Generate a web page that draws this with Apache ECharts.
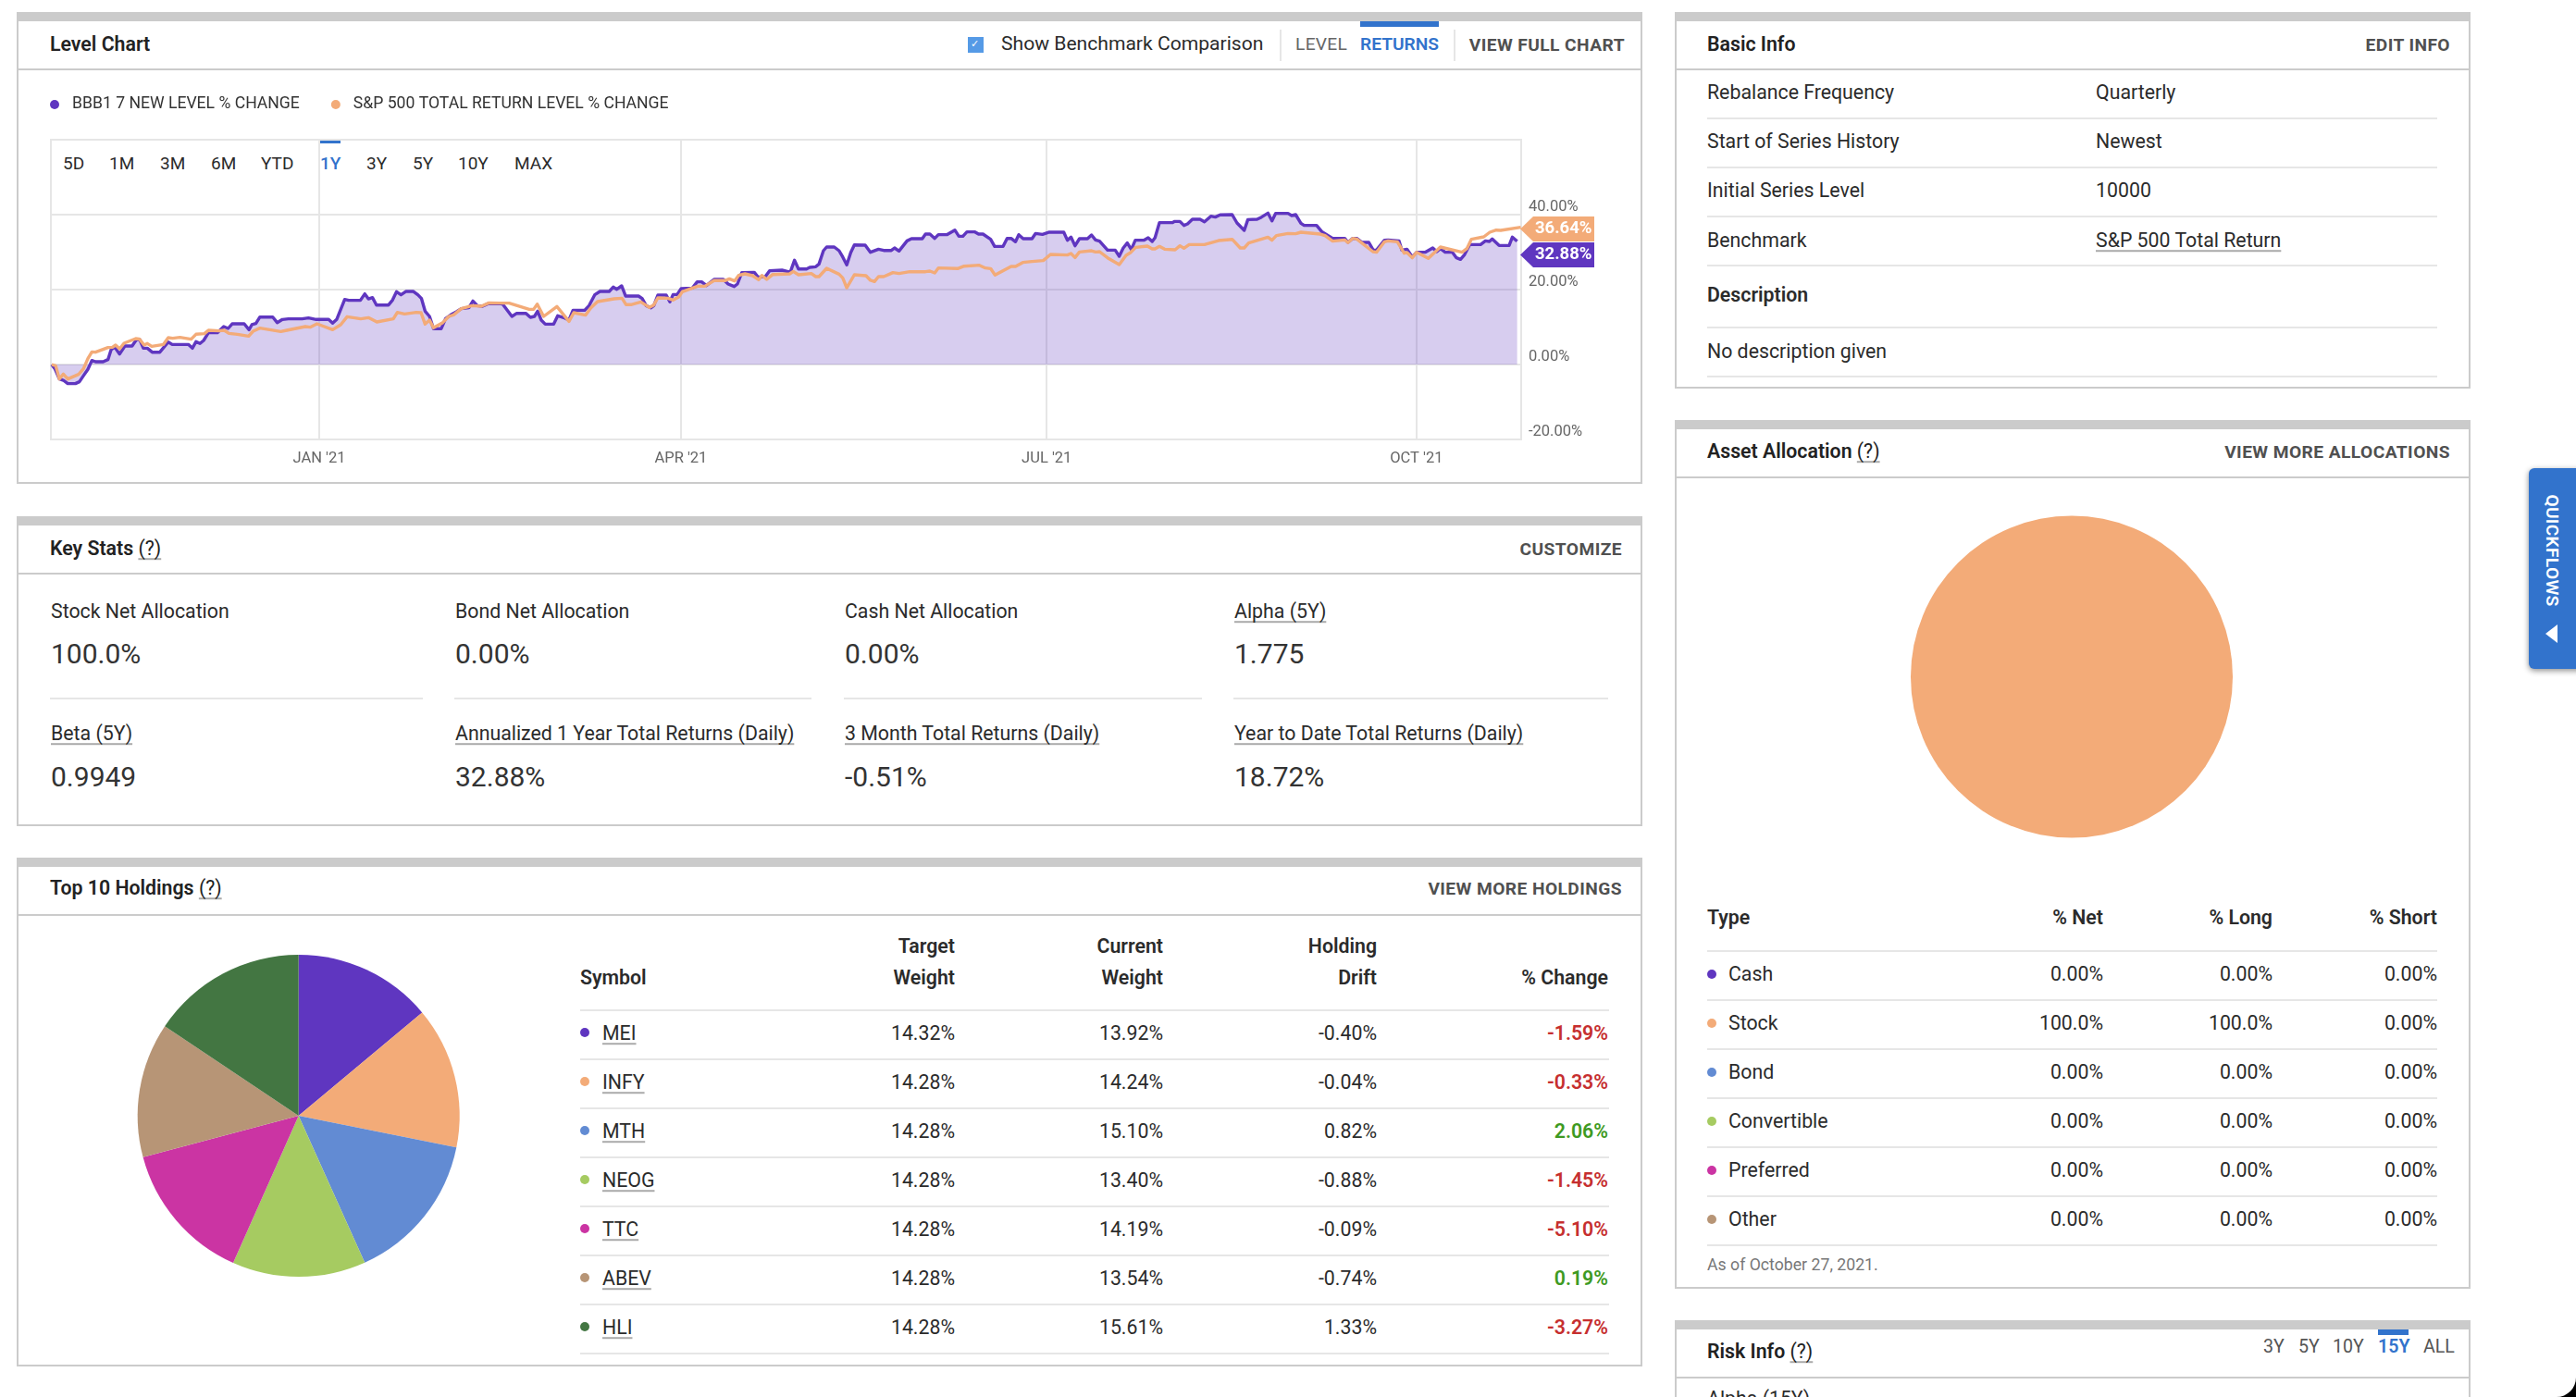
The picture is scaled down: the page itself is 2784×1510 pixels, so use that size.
<!DOCTYPE html>
<html>
<head>
<meta charset="utf-8">
<title>Level Chart</title>
<script src="https://cdn.jsdelivr.net/npm/echarts@6/dist/echarts.min.js"></script>
<style>
html,body{margin:0;padding:0;background:#fff;width:2784px;height:1510px;overflow:hidden;font-family:Roboto,sans-serif;color:#333}
#page{position:absolute;left:0;top:0;width:2784px;height:1510px;overflow:hidden}
#chart{position:absolute;left:0;top:0;width:2784px;height:1510px}
.t{position:absolute;white-space:nowrap;line-height:1.2;transform:translateY(-50%)}
.u{text-decoration:underline;text-decoration-color:#aaa;text-decoration-thickness:2px;text-underline-offset:3px;text-decoration-skip-ink:none}
.b{position:absolute}
</style>
</head>
<body>
<div id="page"></div>
<div id="chart"></div>
<script>
// ---- Level chart data: x is days since the start of the one-year window (late Oct 2020), y is % change ----
const fundName = 'BBB1 7 NEW LEVEL % CHANGE';
const benchName = 'S&P 500 TOTAL RETURN LEVEL % CHANGE';
const fundDays = [0.2,1,2.1,3.1,4.2,6.1,7.1,8.1,9.2,10.2,11.1,13,14.2,15,15.9,17.1,18.4,20.2,21.3,22.1,23,24,25.2,27.1,29.2,30.2,34.2,35.2,36.1,37.1,38,39.2,41.4,43,44.1,45.1,48.1,49.3,50,51,52,55.2,56.3,57.6,59.1,62.5,64.1,66,69.1,70.1,71.1,73.1,74.1,77,78.1,79,80,81,84,85,86,87.1,88.3,90.2,91.3,92.2,93.1,94.2,95.2,97.1,98.2,99.5,100.9,102.1,104,105,106.1,107.4,108.7,111.7,112.4,114.7,115.9,118.2,119.3,120.3,121.1,122,123,125.1,126.1,127.8,128.9,129.9,132.8,133.9,135.3,136.6,138.9,139.9,140.8,142,143,146.2,147.1,148.1,149.3,150,151,153.1,154,154.8,155.8,156.8,159.6,160.8,161.9,163.1,165,167.3,168.5,170,170.8,171.9,175,175.9,177.7,178.8,181.9,183.4,184,185,186,188,188.8,190.3,191.1,192.2,193,194.9,196.1,197,198,199,199.9,202.6,203.9,205.9,207.2,209.1,209.9,211,213,214.1,216.8,217.6,218.7,219.9,220.8,222.9,224.9,225.9,226.9,227.9,229.9,230.8,231.9,233.8,234.8,236.9,237.9,238.9,240,240.8,241.9,244.1,245,246.7,248.4,252,252.9,253.8,254.8,255.9,257.9,258.9,259.9,260.9,262.9,264.8,265.8,266.8,267.8,268.8,269.8,271.9,273,274,274.7,275.8,279,279.6,280.9,281.9,282.8,284,285.9,287,288.6,289.7,290.9,293.9,295.1,296.9,297.8,300.1,301.2,302.8,303.8,304.7,307.8,308.7,309.7,311,311.8,314.9,316.2,318.9,321.9,322.7,323.9,324.9,326.2,327.9,329,329.8,331.8,332.7,335.4,336.1,337.4,338.7,339.8,341.9,343.8,344.8,345.7,346.9,348.7,349.7,350.7,351.7,353,355.7,356.9,357.9,358.6,360.3,362.8,363.6,364.8];
const fundValues = [0,-1.15,-3.87,-4.2,-5.1,-5.1,-4.6,-3,-1.3,1.07,0.74,0.74,1.32,4.03,4.6,2.8,4.94,4.94,6.67,6.67,4.36,4.36,3.29,3.29,6,5.35,5.35,4.36,6.09,5.6,6.42,8.48,8.48,10.12,9.63,10.86,10.86,9.3,10.62,10.95,12.67,12.67,11.19,12.02,12.18,12.18,12.43,12.02,12.02,11.03,12.02,17.37,17.12,17.12,18.85,17.53,17.86,15.88,15.88,17.2,19.42,18.6,19.5,19.5,18.6,17.61,14.24,12.84,9.55,9.55,12.26,13.25,14.07,14.9,15.14,16.95,15.72,15.55,16.21,16.21,16.13,12.84,13.66,13.66,12.59,12.84,14.24,11.85,10.78,10.78,13,12.43,11.85,14.48,14.48,15.72,18.6,19.5,19.5,20.66,20.08,20.99,18.27,18.27,17.61,15.72,15.14,15.72,18.52,18.52,16.71,18.68,18.68,20.25,20.41,22.06,22.06,21.07,22.71,22.71,21.48,20.82,21.48,24.53,24.61,23.37,23.37,25.02,25.18,24.77,24.77,27.82,25.51,25.51,25.92,26.09,26.83,30.37,31.36,31.36,30.37,28.72,26.58,29.87,31.93,31.85,29.96,30.78,30.45,30.45,31.11,30.29,33,33.58,33.58,34.81,34.81,33.66,34.65,34.65,35.88,34.24,34.24,35.39,35.39,34.81,34.81,33.41,31.52,31.52,33.66,33.66,32.76,34.65,33.58,33.58,34.98,34.73,35.31,35.31,33.17,33.99,31.69,33.58,33.58,34.57,33.25,32.92,30.53,30.53,28.89,31.11,32.43,30.7,33.17,33.17,33.83,32.84,33.83,37.86,37.86,38.19,38.19,37.12,37.53,38.76,38.76,38.1,39.59,39.34,39.92,40,37.78,35.8,38.68,38.76,39.34,40.41,38.35,40.33,40.33,39.75,40,37.69,37.12,37.12,35.47,33.66,33.66,32.59,33.66,33.66,32.59,32.59,30.53,30.53,33.17,33.25,33,30.53,30.78,28.72,29.96,29.96,31.11,30.12,30.94,29.96,29.96,28.48,28.06,29.3,32.01,32.01,33,32.84,33.5,31.77,31.77,33.99,32.88];
const benchDays = [0.2,1.2,2.1,3.1,4.2,6.9,8.1,9.2,10.2,11.1,14.2,15.3,16.1,17.1,18.2,21.1,22,23.2,24,25.1,28,29.2,30.3,32.1,34.9,36.1,38.2,39.2,41.8,43.1,44.3,46.4,49.2,50.3,52,57.2,58.7,63.3,64.5,66.2,70.1,72.1,73.7,77.1,79,81.1,85.2,86.2,88,90.9,92.1,93.1,94.2,95.2,97.5,99,100.2,102.1,104.8,107.1,109,111.7,114,119,120.1,121,122.6,125.9,128.9,130.1,133,134.3,136,140.1,142.1,143.1,144.3,146.8,148.9,150,151,153.5,154.8,156.2,157.1,160.9,162.7,165,167.7,168.8,170.1,171.1,172.7,174.6,176.1,176.9,178.1,179.6,183.8,184.7,186,189.2,190.3,191.1,193,196.1,197,198,199.9,202.8,203.9,204.9,205.9,207.2,209.5,211,213.7,217.6,218.7,219.9,220.8,225.6,227.2,231,232.5,233.8,234.9,238.9,240,241.8,244.1,246.9,248.7,252.9,253.8,254.8,255.9,258.9,259.9,260.9,262.9,265.8,267.5,268.6,269.9,272.8,274,274.7,275.8,277.1,279.7,280.9,281.9,283.2,287,290.5,293.9,295.9,296.9,298,302.8,303.8,304.9,307.8,309.7,311,315.8,317,318.9,321.9,322.7,323.9,324.9,328.9,329.8,331.8,332.7,335,336.7,337.4,338.7,339.8,342.7,345.7,351.1,352.3,353.4,356.5,358,359.6,360.7,365.7];
const benchValues = [0,-0.33,-3.87,-2.55,-3.87,-2.63,-1.15,1.56,3.37,3.29,4.53,4.61,5.18,4.2,5.68,6.91,6.83,5.18,5.6,4.86,5.35,7.16,7,7.24,6.75,8.07,8.23,9.14,8.97,9.14,8.31,8.07,7.57,8.89,9.71,8.81,9.14,10.12,9.96,10.86,9.3,10.62,12.76,12.18,12.51,11.36,12.18,13.91,13.5,13.91,13.83,10.78,11.85,9.79,11.19,12.84,13.25,14.9,15.72,15.55,16.46,16.38,16.38,14.73,14.73,16.13,12.84,15.47,11.52,13.83,13.17,15.06,16.79,17.53,17.69,15.97,15.97,16.71,15.23,15.88,17.78,17.69,17.2,18.02,19.42,20.9,20.9,22.39,22.39,22.88,22.3,23.78,24.2,23.7,22.63,23.78,22.71,24.03,24.2,24.85,23.95,24.28,23.46,23.46,25.68,24.11,23.12,20.49,23.95,23.7,22.47,22.14,23.46,23.46,24.53,24.28,24.77,24.77,24.94,24.44,25.76,25.6,26.25,26.5,25.76,25.6,23.87,26.17,26.17,27.24,27.49,27.74,29.39,29.22,29.63,28.56,30.04,30.37,30.04,30.12,28.47,26.66,29.14,29.88,31.27,31.6,30.86,30.86,31.52,30.78,30.61,31.69,31.02,32.01,32.01,33.08,33.41,31.11,31.11,32.43,33.99,33.17,34.4,34.98,34.9,35.31,34.81,34.4,32.92,33.25,32.51,33.66,33.5,30.12,29.96,32.76,33,32.76,29.71,29.87,28.48,29.96,28.31,31.36,29.96,30.94,33.41,34.07,35.31,35.88,35.8,36.64];
const quarterTickDays = [66.75,156.75,247.75,339.75];
const quarterLabels = ["JAN '21","APR '21","JUL '21","OCT '21"];
const yTickValues = [-20,0,20,40];
const rangeLabels = ['5D','1M','3M','6M','YTD','1Y','3Y','5Y','10Y','MAX'];
const rangeX = [68,118,173,228,282,346,396,446,495,556];

// ---- Key stats ----
const statLabels = ['Stock Net Allocation','Bond Net Allocation','Cash Net Allocation','Alpha (5Y)','Beta (5Y)','Annualized 1 Year Total Returns (Daily)','3 Month Total Returns (Daily)','Year to Date Total Returns (Daily)'];
const statValues = ['100.0%','0.00%','0.00%','1.775','0.9949','32.88%','-0.51%','18.72%'];
const statUnderlined = [false,false,false,true,true,true,true,true];

// ---- Holdings ----
const holdingSymbols = ['MEI','INFY','MTH','NEOG','TTC','ABEV','HLI'];
const targetWeights = [14.32,14.28,14.28,14.28,14.28,14.28,14.28];
const currentWeights = [13.92,14.24,15.10,13.40,14.19,13.54,15.61];
const holdingDrift = [-0.40,-0.04,0.82,-0.88,-0.09,-0.74,1.33];
const holdingChange = [-1.59,-0.33,2.06,-1.45,-5.10,0.19,-3.27];
const palette = ['#5F36C0','#F3AB78','#628BD3','#A6CB61','#CB34A3','#B79576','#437642'];

// ---- Basic info ----
const infoLabels = ['Rebalance Frequency','Start of Series History','Initial Series Level','Benchmark'];
const infoValues = ['Quarterly','Newest','10000','S&P 500 Total Return'];

// ---- Asset allocation ----
const allocTypes = ['Cash','Stock','Bond','Convertible','Preferred','Other'];
const allocNet = [0,100,0,0,0,0];
const allocLong = [0,100,0,0,0,0];
const allocShort = [0,0,0,0,0,0];

// ---- Page furniture ----
const page = document.getElementById('page');
const LINE = '#CBCBCB', SOFT = '#E6E6E6', INK = '#2B2B2B', MUTED = '#505050', BLUE = '#3273CC';
function box(x,y,w,h,bg,extra){const d=document.createElement('div');d.className='b';d.style.cssText=`left:${x}px;top:${y}px;width:${w}px;height:${h}px;background:${bg};${extra||''}`;page.appendChild(d);return d;}
function txt(s,x,y,o){o=o||{};const d=document.createElement('div');d.className='t'+(o.u?' u':'');d.textContent=s;
  const pos=o.right?`right:${2784-x}px;`:`left:${x}px;`;
  d.style.cssText=`${pos}top:${y}px;font-size:${o.size||21.3}px;font-weight:${o.w||400};color:${o.c||INK};letter-spacing:${o.ls||0}px;`;
  page.appendChild(d);return d;}
function panel(x0,x1,top,head,bottom){
  box(x0,top,x1-x0,10,LINE);
  box(x0,top+10,2,bottom-top-10,LINE);
  box(x1-2,top+10,2,bottom-top-10,LINE);
  box(x0,head,x1-x0,2,LINE);
  if(bottom<1510)box(x0,bottom,x1-x0,2,LINE);
}
function title(main,q,x,y){const d=txt(main+' ',x,y,{w:600,c:'#222'});if(q){const s=document.createElement('span');s.className='u';s.textContent='(?)';s.style.fontWeight=400;d.appendChild(s);}}
function action(s,x,y){txt(s,x,y,{right:true,w:700,c:MUTED,size:19.2,ls:0.42});}
const pct=v=>v.toFixed(2)+'%';
const pct4=v=>v===100?'100.0%':v.toFixed(2)+'%';

// Level chart panel
panel(18,1775,13,74,521);
title('Level Chart',false,54,48);
box(1046,40,17,17,'#559AE6');
txt('\u2713',1049,48,{size:11,c:'#fff'});
txt('Show Benchmark Comparison',1082,47,{size:21.1});
box(1383,32,2,34,SOFT);
txt('LEVEL',1400,48,{c:'#666',size:19.2,ls:0.3});
txt('RETURNS',1470,48,{c:BLUE,size:19.2,w:600,ls:0});
box(1470,23,85,6,BLUE);
box(1571,32,2,34,SOFT);
action('VIEW FULL CHART',1756,49);
rangeLabels.forEach((s,i)=>txt(s,rangeX[i],176.5,{size:19,c:s==='1Y'?BLUE:INK,w:s==='1Y'?500:400}));
box(345,151,23,4,BLUE);

// Key stats panel
panel(18,1775,558,619,891);
title('Key Stats',true,54,593);
action('CUSTOMIZE',1753,594);
const statX=[55,492,913,1334], statDivW=[403,386,387,405];
statLabels.forEach((s,i)=>{const c=i%4,r=Math.floor(i/4),dy=r*132.5;
  txt(s,statX[c],660.5+dy,{u:statUnderlined[i]});
  txt(statValues[i],statX[c],707+dy,{size:30,c:'#333'});});
statX.forEach((x,i)=>box(x-1,754,statDivW[i],2,SOFT));

// Holdings panel
panel(18,1775,927,988,1475);
title('Top 10 Holdings',true,54,960);
action('VIEW MORE HOLDINGS',1753,961);
const colR=[1032,1257,1488,1738];
txt('Symbol',627,1057,{w:600});
txt('Target',colR[0],1023,{right:true,w:600});txt('Weight',colR[0],1057,{right:true,w:600});
txt('Current',colR[1],1023,{right:true,w:600});txt('Weight',colR[1],1057,{right:true,w:600});
txt('Holding',colR[2],1023,{right:true,w:600});txt('Drift',colR[2],1057,{right:true,w:600});
txt('% Change',colR[3],1057,{right:true,w:600});
box(627,1091,1112,2,SOFT);
holdingSymbols.forEach((s,i)=>{const y=1117+i*53;
  box(627,y-6,10,10,palette[i],'border-radius:50%;');
  txt(s,651,y,{u:true});
  txt(pct(targetWeights[i]),colR[0],y,{right:true});
  txt(pct(currentWeights[i]),colR[1],y,{right:true});
  txt(pct(holdingDrift[i]),colR[2],y,{right:true});
  txt(pct(holdingChange[i]),colR[3],y,{right:true,w:600,c:holdingChange[i]<0&&s!=='ABEV'?'#C62F2F':'#3E9A22'});
  box(627,1144+i*53,1112,2,SOFT);
});

// Basic info panel
panel(1810,2670,13,74,418);
title('Basic Info',false,1845,48);
action('EDIT INFO',2648,49);
infoLabels.forEach((s,i)=>{const y=100+i*53.2;
  txt(s,1845,y,{});
  txt(infoValues[i],2265,y,{u:i===3});
  box(1845,127+i*53,789,2,SOFT);});
txt('Description',1845,319,{w:600});
box(1845,353,789,2,SOFT);
txt('No description given',1845,380,{});
box(1845,406,789,2,SOFT);

// Asset allocation panel
panel(1810,2670,454,515,1391);
title('Asset Allocation',true,1845,488);
action('VIEW MORE ALLOCATIONS',2648,489);
const allocR=[2273,2456,2634];
txt('Type',1845,992,{w:600});
txt('% Net',allocR[0],992,{right:true,w:600});
txt('% Long',allocR[1],992,{right:true,w:600});
txt('% Short',allocR[2],992,{right:true,w:600});
box(1845,1027,789,2,SOFT);
allocTypes.forEach((s,i)=>{const y=1052.5+i*53;
  box(1845,y-5,10,10,palette[i],'border-radius:50%;');
  txt(s,1868,y,{});
  txt(pct4(allocNet[i]),allocR[0],y,{right:true});
  txt(pct4(allocLong[i]),allocR[1],y,{right:true});
  txt(pct4(allocShort[i]),allocR[2],y,{right:true});
  box(1845,1080+i*53,789,2,SOFT);});
txt('As of October 27, 2021.',1845,1368,{size:17.7,c:'#777'});

// Risk info panel (runs off the page)
panel(1810,2670,1427,1488,1600);
title('Risk Info',true,1845,1461);
[['3Y',2446],['5Y',2484],['10Y',2521],['15Y',2570],['ALL',2619]].forEach(([s,x])=>txt(s,x,1456,{size:19.6,c:s==='15Y'?BLUE:'#555',w:s==='15Y'?600:400}));
box(2570,1437,33,6,BLUE);
txt('Alpha (15Y)',1845,1512,{u:true});

// Quickflows tab
box(2733,506,60,217,BLUE,'border-radius:6px;box-shadow:0 2px 6px rgba(0,0,0,.45);');
const qf=txt('QUICKFLOWS',2758,594.5,{size:19.2,w:600,c:'#fff',ls:0.3});
qf.style.transform='translate(-50%,-50%) rotate(90deg)';
box(2751,675,13,20,'#fff','clip-path:polygon(0 50%,100% 0,100% 100%);');

// Screen corner
box(2763,1489,21,21,'#000');
box(2763,1489,21,21,'#fff','border-bottom-right-radius:21px;');

// ---- ECharts ----
const zip = (days, vals) => days.map((d, i) => [d, vals[i]]);
const chart = echarts.init(document.getElementById('chart'), null, {width:2784,height:1510});
function tag(y, color, label){
  return {type:'group',silent:true,children:[
    {type:'polygon',z:20,shape:{points:[[1643,y],[1657,y-13.5],[1723,y-13.5],[1723,y+13.5],[1657,y+13.5]]},style:{fill:color}},
    {type:'text',z:21,style:{text:label,x:1659,y:y-10,fill:'#fff',fontFamily:'Roboto',fontWeight:700,fontSize:18.5}}
  ]};
}
chart.setOption({
  animation:false,
  backgroundColor:'transparent',
  legend:{
    left:54,top:104,padding:0,icon:'circle',itemWidth:10,itemHeight:10,itemGap:34,selectedMode:false,
    textStyle:{fontFamily:'Roboto',fontSize:17.6,color:'#333',padding:[0,0,0,9]},
    data:[fundName,benchName]
  },
  grid:{left:55,top:151,width:1589,height:324,show:true,borderColor:SOFT,borderWidth:2,backgroundColor:'transparent'},
  xAxis:{
    type:'value',min:0,max:365.8,
    axisLine:{show:false},
    axisTick:{show:false,customValues:quarterTickDays},
    axisLabel:{customValues:quarterTickDays,margin:12,fontFamily:'Roboto',fontSize:16.5,color:'#666',
      formatter:v=>quarterLabels[quarterTickDays.indexOf(v)]||''},
    splitLine:{show:true,lineStyle:{color:SOFT,width:2}}
  },
  yAxis:{
    type:'value',position:'right',min:-20,max:60,interval:20,
    axisLine:{show:false},axisTick:{show:false},
    axisLabel:{margin:8,fontFamily:'Roboto',fontSize:16.5,color:'#666',verticalAlign:'bottom',
      formatter:v=>yTickValues.includes(v)?v.toFixed(2)+'%':''},
    splitLine:{show:true,lineStyle:{color:SOFT,width:2}}
  },
  series:[
    {name:fundName,type:'line',symbol:'none',z:3,data:zip(fundDays,fundValues),
     color:palette[0],lineStyle:{color:palette[0],width:3.4,join:'round'},
     areaStyle:{color:palette[0],opacity:0.25}},
    {name:benchName,type:'line',symbol:'none',z:4,data:zip(benchDays,benchValues),
     color:palette[1],lineStyle:{color:palette[1],width:3.4,join:'round'}},
    {name:'Holdings',type:'pie',center:[322.7,1206],radius:[0,174],startAngle:90,label:{show:false},labelLine:{show:false},
     silent:true,itemStyle:{borderWidth:0},
     data:holdingSymbols.map((s,i)=>({name:s,value:currentWeights[i],itemStyle:{color:palette[i]}}))},
    {name:'Asset Allocation',type:'pie',center:[2239,731.5],radius:[0,174],startAngle:90,label:{show:false},labelLine:{show:false},
     silent:true,itemStyle:{borderWidth:0},
     data:allocTypes.map((s,i)=>({name:s,value:allocNet[i],itemStyle:{color:palette[i]}}))}
  ],
  graphic:[
    tag(247.5,palette[1],pct(benchValues[benchValues.length-1])),
    tag(275.5,palette[0],pct(fundValues[fundValues.length-1]))
  ]
});
</script>
</body>
</html>
